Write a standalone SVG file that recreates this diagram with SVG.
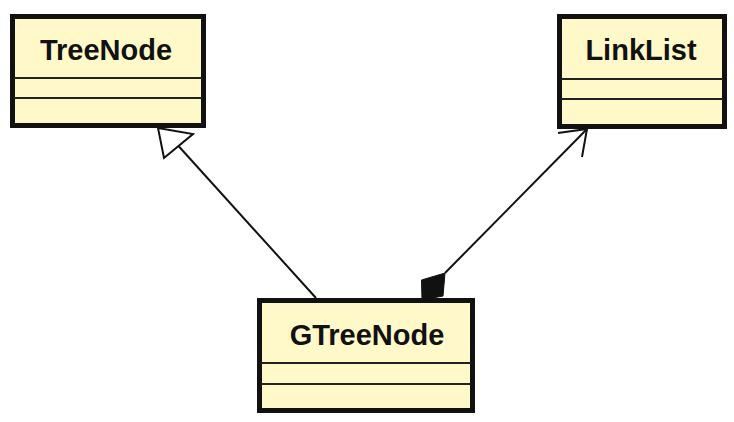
<svg xmlns="http://www.w3.org/2000/svg" width="734" height="422" viewBox="0 0 734 422">
  <style>
    .box { fill: #fff9c9; stroke: #111; stroke-width: 5; }
    .div { stroke: #222; stroke-width: 2.2; }
    .lbl { font-family: "Liberation Sans", Arial, sans-serif; font-weight: bold; font-size: 29px; fill: #111; text-anchor: middle; }
    .edge { stroke: #111; stroke-width: 2; fill: none; }
  </style>
  <rect width="734" height="422" fill="#ffffff"/>
  <g id="connectors">
    <g id="generalization">
      <line class="edge" x1="316" y1="298" x2="178.5" y2="146"/>
      <polygon points="158,128 193,134 164,158" fill="#ffffff" stroke="#111" stroke-width="2" stroke-linejoin="miter"/>
    </g>
    <g id="composition">
      <line class="edge" x1="445" y1="273" x2="587" y2="129"/>
      <polyline class="edge" points="558,133 587,129 582,157"/>
      <polygon points="422,300 421.5,280 445,273 443,296" fill="#111" stroke="#111" stroke-width="1"/>
    </g>
  </g>
  <g id="TreeNode">
    <rect class="box" x="12.5" y="16.5" width="191" height="109"/>
    <line class="div" x1="14" y1="78" x2="202" y2="78"/>
    <line class="div" x1="14" y1="98" x2="202" y2="98"/>
    <text class="lbl" x="106" y="60">TreeNode</text>
  </g>
  <g id="LinkList">
    <rect class="box" x="559.5" y="16.5" width="165" height="110"/>
    <line class="div" x1="561" y1="79" x2="723" y2="79"/>
    <line class="div" x1="561" y1="99" x2="723" y2="99"/>
    <text class="lbl" x="641" y="60">LinkList</text>
  </g>
  <g id="GTreeNode">
    <rect class="box" x="259.5" y="300.5" width="213" height="110"/>
    <line class="div" x1="261" y1="363" x2="471" y2="363"/>
    <line class="div" x1="261" y1="384" x2="471" y2="384"/>
    <text class="lbl" x="367" y="345">GTreeNode</text>
  </g>
</svg>
